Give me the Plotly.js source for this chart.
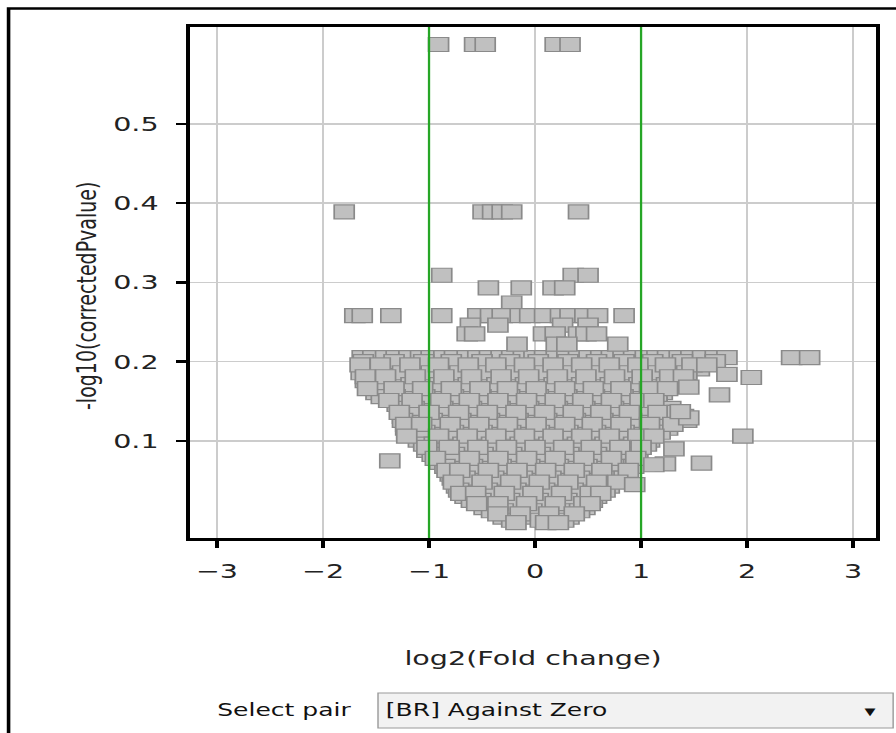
<!DOCTYPE html>
<html>
<head>
<meta charset="utf-8">
<script src="https://cdn.plot.ly/plotly-3.0.1.min.js"></script>
<style>
html,body{margin:0;padding:0;overflow:hidden;background:#fff;}
#wrap{width:627px;height:733px;transform:scaleX(1.42903);transform-origin:0 0;}
</style>
</head>
<body>
<div id="wrap"></div>
<script>
// ---- data ----
const xTickVals = [-3, -2, -1, 0, 1, 2, 3];
const xTickText = ['\u22123', '\u22122', '\u22121', '0', '1', '2', '3'];
const yTickVals = [0.1, 0.2, 0.3, 0.4, 0.5];
const yTickText = ['0.1', '0.2', '0.3', '0.4', '0.5'];
const foldChangeCutoffs = [-1, 1];

// isolated points: log2(fold change) and -log10(corrected p)
const outlierFC = [-0.91, -0.57, -0.47, 0.19, 0.33,
  -1.80, -0.49, -0.40, -0.31, -0.22, 0.41,
  -0.88, 0.36, 0.50,
  -0.44, -0.13, 0.17, 0.28,
  -0.22,
  -1.70, -1.63, -1.36, -0.88, -0.54, -0.42, -0.31, -0.14, -0.05, 0.09, 0.24, 0.33, 0.47, 0.59, 0.84,
  -0.61, -0.35, 0.26, 0.50,
  -0.64, -0.57, 0.08, 0.19, 0.41, 0.48, 0.58,
  -0.17, 0.20, 0.30, 0.78,
  2.42, 2.59, 1.81, 2.04, 1.74, 1.96, 1.57, 1.23, 1.12, 1.31, 0.94, 1.45, 1.37, 1.45, -1.37];
const outlierP = [0.600, 0.600, 0.600, 0.600, 0.600,
  0.389, 0.389, 0.389, 0.389, 0.389, 0.389,
  0.309, 0.309, 0.309,
  0.293, 0.293, 0.293, 0.293,
  0.274,
  0.258, 0.258, 0.258, 0.258, 0.258, 0.258, 0.258, 0.258, 0.258, 0.258, 0.258, 0.258, 0.258, 0.258, 0.258,
  0.246, 0.246, 0.246, 0.246,
  0.235, 0.235, 0.235, 0.235, 0.235, 0.235, 0.235,
  0.222, 0.222, 0.222, 0.222,
  0.205, 0.205, 0.184, 0.180, 0.158, 0.106, 0.072, 0.071, 0.070, 0.090, 0.045, 0.129, 0.137, 0.168, 0.075];

// dense cloud, read row by row: one -log10 p level per row
const cloudRowP = [0.205, 0.200, 0.196, 0.191, 0.186, 0.181, 0.176, 0.171, 0.166, 0.161, 0.156, 0.151,
  0.146, 0.141, 0.136, 0.131, 0.126, 0.121, 0.116, 0.111, 0.106, 0.101, 0.096, 0.092, 0.088, 0.083,
  0.078, 0.073, 0.068, 0.063, 0.058, 0.053, 0.048, 0.043, 0.038, 0.034, 0.030, 0.025, 0.021, 0.016,
  0.012, 0.008, 0.004, 0.000, -0.003];
const cloudRowFC = [
  [-1.63,-1.53,-1.41,-1.31,-1.19,-1.08,-0.98,-0.86,-0.76,-0.64,-0.54,-0.43,-0.32,-0.22,-0.11,-0.01,0.09,0.20,0.30,0.41,0.51,0.62,0.72,0.83,0.93,1.04,1.15,1.25,1.36,1.47,1.58,1.70,1.81],
  [-1.62,-1.33,-1.05,-0.79,-0.50,-0.24,0.03,0.31,0.58,0.84,1.11,1.39,1.70],
  [-1.65,-1.46,-1.18,-0.91,-0.63,-0.37,-0.10,0.17,0.44,0.70,0.97,1.23,1.48,1.62],
  [-1.63,-1.37,-1.09,-0.82,-0.55,-0.29,-0.02,0.25,0.52,0.79,1.05,1.31,1.55],
  [-1.64,-1.52,-1.25,-0.98,-0.71,-0.44,-0.18,0.09,0.36,0.62,0.89,1.16,1.43],
  [-1.60,-1.41,-1.13,-0.86,-0.60,-0.32,-0.06,0.21,0.48,0.75,1.01,1.27,1.40],
  [-1.60,-1.30,-1.04,-0.76,-0.49,-0.23,0.04,0.31,0.57,0.84,1.10,1.43],
  [-1.55,-1.44,-1.17,-0.90,-0.63,-0.36,-0.09,0.18,0.44,0.71,0.98,1.24,1.35],
  [-1.58,-1.33,-1.06,-0.79,-0.52,-0.26,0.01,0.28,0.55,0.81,1.08,1.25],
  [-1.50,-1.21,-0.95,-0.68,-0.41,-0.14,0.13,0.39,0.66,0.93,1.20],
  [-1.45,-1.32,-1.04,-0.77,-0.51,-0.24,0.03,0.30,0.56,0.83,1.10,1.15],
  [-1.38,-1.16,-0.89,-0.62,-0.35,-0.08,0.19,0.45,0.72,0.99,1.12],
  [-1.30,-1.03,-0.76,-0.49,-0.22,0.05,0.32,0.58,0.85,1.15],
  [-1.27,-1.14,-0.87,-0.60,-0.33,-0.06,0.21,0.47,0.74,1.01,1.28],
  [-1.28,-1.00,-0.72,-0.45,-0.18,0.09,0.36,0.62,0.89,1.16,1.34],
  [-1.25,-1.10,-0.83,-0.56,-0.29,-0.02,0.25,0.51,0.78,1.05,1.40],
  [-1.25,-0.97,-0.70,-0.43,-0.16,0.11,0.38,0.64,0.91,1.18,1.43],
  [-1.22,-1.07,-0.80,-0.53,-0.26,0.01,0.28,0.54,0.81,1.08,1.30],
  [-1.22,-0.94,-0.67,-0.40,-0.13,0.14,0.41,0.67,0.94,1.25],
  [-1.21,-1.04,-0.77,-0.50,-0.23,0.04,0.31,0.57,0.84,1.10,1.18],
  [-1.21,-0.91,-0.64,-0.37,-0.10,0.17,0.44,0.70,0.97,1.12],
  [-1.10,-0.83,-0.56,-0.29,-0.02,0.25,0.51,0.78,1.08],
  [-1.05,-0.95,-0.68,-0.41,-0.14,0.13,0.40,0.66,0.93,1.05],
  [-1.02,-0.81,-0.54,-0.27,0.00,0.27,0.53,0.80,1.00],
  [-1.02,-0.93,-0.66,-0.39,-0.12,0.15,0.42,0.68,0.94],
  [-0.97,-0.76,-0.49,-0.22,0.05,0.32,0.58,0.85,0.97],
  [-0.94,-0.62,-0.35,-0.08,0.19,0.46,0.72,0.95],
  [-0.90,-0.76,-0.49,-0.22,0.05,0.32,0.58,0.85,0.93],
  [-0.85,-0.59,-0.32,-0.05,0.22,0.49,0.75,0.93],
  [-0.83,-0.71,-0.44,-0.17,0.10,0.37,0.63,0.88],
  [-0.80,-0.55,-0.28,-0.01,0.26,0.53,0.79,0.88],
  [-0.78,-0.66,-0.39,-0.12,0.15,0.42,0.68,0.84],
  [-0.77,-0.50,-0.23,0.04,0.31,0.58,0.78],
  [-0.74,-0.61,-0.34,-0.07,0.20,0.47,0.70],
  [-0.72,-0.45,-0.18,0.09,0.36,0.66],
  [-0.70,-0.56,-0.29,-0.02,0.25,0.52,0.62],
  [-0.66,-0.40,-0.13,0.14,0.41,0.58],
  [-0.60,-0.51,-0.24,0.03,0.30,0.54],
  [-0.55,-0.35,-0.08,0.19,0.46,0.52],
  [-0.48,-0.19,0.08,0.35,0.47],
  [-0.41,-0.30,-0.03,0.24,0.42],
  [-0.35,-0.14,0.13,0.37],
  [-0.30,-0.03,0.24,0.32],
  [-0.22,0.05,0.27],
  [-0.18,0.10,0.22]
];

const axisTitleX = 'log2(Fold change)';
const axisTitleY = '-log10(correctedPvalue)';
const selectLabel = 'Select pair';
const selectValue = '[BR] Against Zero';

// ---- build trace arrays from the rows (rows interleaved in three passes for draw order) ----
const fc = [], nlp = [];
[0, 1, 2].forEach(pass => {
  cloudRowFC.forEach((row, i) => {
    if (i % 3 !== pass) return;
    row.forEach(v => { fc.push(v); nlp.push(cloudRowP[i]); });
  });
});
outlierFC.forEach((v, i) => { fc.push(v); nlp.push(outlierP[i]); });

const font = 'DejaVu Sans, Verdana, sans-serif';
const trace = {
  type: 'scatter', mode: 'markers', x: fc, y: nlp,
  marker: {symbol: 'square', size: 14, color: '#c0c0c0', line: {color: '#8a8a8a', width: 1.2}},
  hoverinfo: 'skip'
};

const shapes = foldChangeCutoffs.map(c => ({
  type: 'line', xref: 'x', yref: 'paper', x0: c, x1: c, y0: 0, y1: 1,
  line: {color: '#26a626', width: 1.6}, layer: 'above'
}));
// outer frame of the panel
shapes.push({type: 'rect', xref: 'paper', yref: 'paper', x0: -0.2646, x1: 1.3, y0: -0.7, y1: 1.0362,
  line: {color: '#000', width: 2.5}, fillcolor: 'rgba(0,0,0,0)', layer: 'below'});
// select box
shapes.push({type: 'rect', xref: 'paper', yref: 'paper', x0: 0.274, x1: 1.025, y0: -0.3718, y1: -0.3033,
  line: {color: '#9a9a9a', width: 1}, fillcolor: '#f2f2f2', layer: 'above'});

const annotations = [
  {text: axisTitleY, xref: 'paper', yref: 'paper', x: -0.152, y: 0.4736, xanchor: 'center', yanchor: 'middle',
   textangle: -90, showarrow: false, font: {family: font, size: 19, color: '#222'}},
  {text: selectLabel, xref: 'paper', yref: 'paper', x: 0.0354, y: -0.3366, xanchor: 'left', yanchor: 'middle',
   showarrow: false, font: {family: font, size: 17.5, color: '#111'}},
  {text: selectValue, xref: 'paper', yref: 'paper', x: 0.2813, y: -0.3375, xanchor: 'left', yanchor: 'middle',
   showarrow: false, font: {family: font, size: 17.5, color: '#111'}},
  {text: '\u25BC', xref: 'paper', yref: 'paper', x: 0.9927, y: -0.3405, xanchor: 'center', yanchor: 'middle',
   showarrow: false, font: {family: font, size: 10, color: '#111'}}
];

const axisCommon = {
  showgrid: true, gridcolor: '#cccccc', gridwidth: 1.5, zeroline: false,
  showline: true, linecolor: '#000', linewidth: 3, mirror: true,
  ticks: 'outside', ticklen: 7, tickwidth: 2.5, tickcolor: '#000',
  tickfont: {family: font, size: 20, color: '#222'}, automargin: false, fixedrange: true
};

const layout = {
  width: 627, height: 733,
  margin: {l: 133, r: 14, t: 27, b: 195},
  paper_bgcolor: '#fff', plot_bgcolor: '#fff',
  showlegend: false, hovermode: false,
  xaxis: Object.assign({}, axisCommon, {
    range: [-3.254, 3.216], tickmode: 'array', tickvals: xTickVals, ticktext: xTickText,
    ticklabelstandoff: 6,
    title: {text: axisTitleX, font: {family: font, size: 20, color: '#222'}, standoff: 70}
  }),
  yaxis: Object.assign({}, axisCommon, {
    range: [-0.0224, 0.6221], tickmode: 'array', tickvals: yTickVals, ticktext: yTickText,
    ticklabelstandoff: 8
  }),
  shapes: shapes,
  annotations: annotations
};

Plotly.newPlot('wrap', [trace], layout, {displayModeBar: false, staticPlot: true});
</script>
</body>
</html>
